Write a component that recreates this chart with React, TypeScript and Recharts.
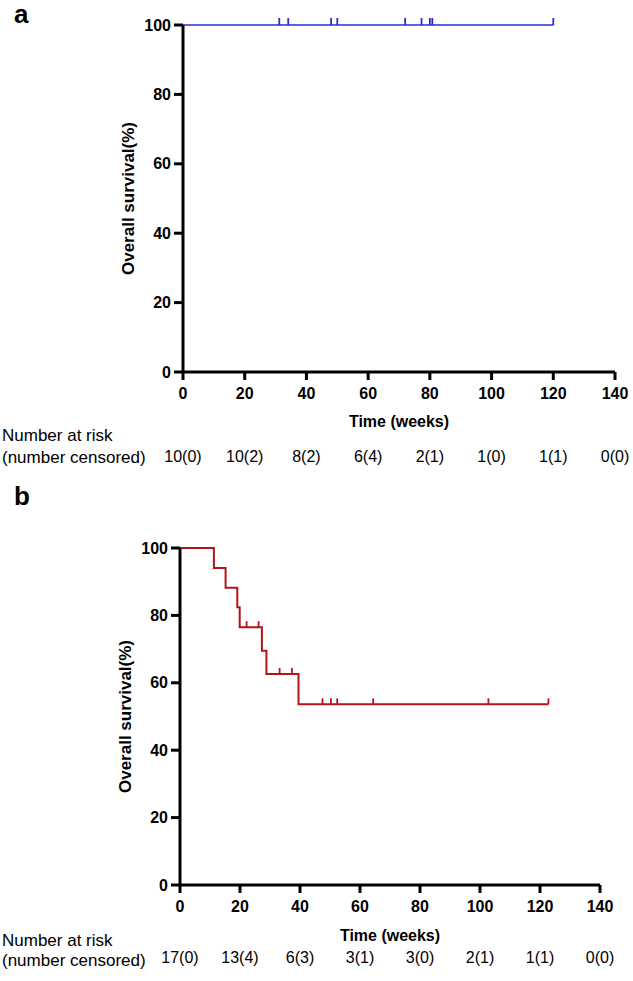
import React from "react";
import { ComposedChart, Line, XAxis, YAxis, Label } from "recharts";

// ---------- data ----------
const xTicks = [0, 20, 40, 60, 80, 100, 120, 140];
const yTicks = [0, 20, 40, 60, 80, 100];

// Panel a
const curveATime = [0, 120];
const curveASurv = [100, 100];
const censorATime = [31.2, 34.1, 48, 50, 72, 77.3, 80, 80.8, 120];
const censorASurv = [100, 100, 100, 100, 100, 100, 100, 100, 100];
const riskA = ["10(0)", "10(2)", "8(2)", "6(4)", "2(1)", "1(0)", "1(1)", "0(0)"];

// Panel b
const curveBTime = [0, 11.3, 15.2, 19.1, 19.9, 27.3, 28.8, 39.5, 122.8];
const curveBSurv = [100, 94.1, 88.2, 82.4, 76.5, 69.5, 62.6, 53.6, 53.6];
const censorBTime = [22.2, 26.2, 33.2, 37.3, 47.5, 50.3, 52.4, 64.4, 102.8, 122.8];
const censorBSurv = [76.5, 76.5, 62.6, 62.6, 53.6, 53.6, 53.6, 53.6, 53.6, 53.6];
const riskB = ["17(0)", "13(4)", "6(3)", "3(1)", "3(0)", "2(1)", "1(1)", "0(0)"];

const FONT = "'Liberation Sans', Arial, Helvetica, sans-serif";

const toRows = (t: number[], s: number[]) => t.map((v, i) => ({ t: v, s: s[i] }));

type PanelProps = {
  top: number;
  height: number;
  margin: { top: number; right: number; bottom: number; left: number };
  curve: { t: number; s: number }[];
  censor: { t: number; s: number }[];
  color: string;
  lineWidth: number;
  risk: string[];
  titleOffset: number;
  riskOffset: number;
  riskLine1: number;
  riskLine2: number;
  yLabelX: number;
  tickLen: number;
};

function Panel(p: PanelProps) {
  const censorDot = (props: any) => {
    const { cx, cy, index } = props;
    if (cx == null || cy == null) return <g key={`c${index}`} />;
    return (
      <line
        key={`c${index}`}
        x1={cx}
        x2={cx}
        y1={cy}
        y2={cy - p.tickLen}
        stroke={p.color}
        strokeWidth={1.8}
      />
    );
  };

  const xTick = (props: any) => {
    const { x, y, payload, index } = props;
    const v = payload?.value;
    const i = xTicks.indexOf(v);
    return (
      <g key={`xt${index}`}>
        <text
          x={x}
          y={y}
          dy="0.71em"
          textAnchor="middle"
          fontSize={16}
          fontWeight={700}
          fontFamily={FONT}
          fill="#000"
        >
          {v}
        </text>
        <text
          x={x}
          y={y + p.riskOffset}
          textAnchor="middle"
          fontSize={16}
          fontFamily={FONT}
          fill="#000"
        >
          {i >= 0 ? p.risk[i] : ""}
        </text>
      </g>
    );
  };

  return (
    <div style={{ position: "absolute", left: 0, top: p.top }}>
      <ComposedChart width={633} height={p.height} margin={p.margin}>
        <XAxis
          dataKey="t"
          type="number"
          domain={[0, 140]}
          ticks={xTicks}
          interval={0}
          height={60}
          tickSize={8}
          tickMargin={8}
          axisLine={{ stroke: "#000", strokeWidth: 3 }}
          tickLine={{ stroke: "#000", strokeWidth: 3 }}
          tick={xTick}
        >
          <Label
            content={(lp: any) => {
              const vb = lp.viewBox || {};
              return (
                <g>
                  <text
                    x={vb.x + vb.width / 2}
                    y={vb.y + p.titleOffset}
                    textAnchor="middle"
                    fontSize={16}
                    fontWeight={700}
                    fontFamily={FONT}
                    fill="#000"
                  >
                    Time (weeks)
                  </text>
                  <text fontSize={17} fontFamily={FONT} fill="#000">
                    <tspan x={2} y={vb.y + p.riskLine1}>
                      Number at risk
                    </tspan>
                    <tspan x={2} y={vb.y + p.riskLine2}>
                      (number censored)
                    </tspan>
                  </text>
                </g>
              );
            }}
          />
        </XAxis>
        <YAxis
          type="number"
          domain={[0, 100]}
          ticks={yTicks}
          interval={0}
          width={60}
          tickSize={9}
          tickMargin={3}
          axisLine={{ stroke: "#000", strokeWidth: 3 }}
          tickLine={{ stroke: "#000", strokeWidth: 3 }}
          tick={{ fill: "#000", fontSize: 16, fontWeight: 700, fontFamily: FONT }}
        >
          <Label
            content={(lp: any) => {
              const vb = lp.viewBox || {};
              const cy = vb.y + vb.height / 2;
              return (
                <text
                  x={p.yLabelX}
                  y={cy}
                  transform={`rotate(-90, ${p.yLabelX}, ${cy})`}
                  textAnchor="middle"
                  dominantBaseline="central"
                  fontSize={17}
                  fontWeight={700}
                  fontFamily={FONT}
                  fill="#000"
                >
                  Overall survival(%)
                </text>
              );
            }}
          />
        </YAxis>
        <Line
          data={p.curve}
          dataKey="s"
          type="stepAfter"
          stroke={p.color}
          strokeWidth={p.lineWidth}
          dot={false}
          activeDot={false}
          isAnimationActive={false}
        />
        <Line
          data={p.censor}
          dataKey="s"
          stroke="none"
          dot={censorDot}
          activeDot={false}
          isAnimationActive={false}
        />
      </ComposedChart>
    </div>
  );
}

export default function App() {
  const dataA = toRows(curveATime, curveASurv);
  const cenA = toRows(censorATime, censorASurv);
  const dataB = toRows(curveBTime, curveBSurv);
  const cenB = toRows(censorBTime, censorBSurv);
  return (
    <div
      style={{
        position: "absolute",
        left: 0,
        top: 0,
        width: 633,
        height: 981,
        background: "#fff",
        fontFamily: FONT,
      }}
    >
      <Panel
        top={0}
        height={472}
        margin={{ top: 25, right: 18, bottom: 40, left: 123 }}
        curve={dataA}
        censor={cenA}
        color="#2b2bd6"
        lineWidth={1.6}
        risk={riskA}
        titleOffset={55}
        riskOffset={74}
        riskLine1={69}
        riskLine2={91}
        yLabelX={128}
        tickLen={7}
      />
      <Panel
        top={500}
        height={481}
        margin={{ top: 48, right: 33, bottom: 36, left: 120 }}
        curve={dataB}
        censor={cenB}
        color="#b3141a"
        lineWidth={2}
        risk={riskB}
        titleOffset={56}
        riskOffset={62}
        riskLine1={61}
        riskLine2={81}
        yLabelX={125}
        tickLen={6}
      />
      <div
        style={{
          position: "absolute",
          left: 14,
          top: 1,
          fontSize: 26,
          fontWeight: 700,
          lineHeight: 1,
          fontFamily: FONT,
        }}
      >
        a
      </div>
      <div
        style={{
          position: "absolute",
          left: 14,
          top: 483,
          fontSize: 26,
          fontWeight: 700,
          lineHeight: 1,
          fontFamily: FONT,
        }}
      >
        b
      </div>
    </div>
  );
}
